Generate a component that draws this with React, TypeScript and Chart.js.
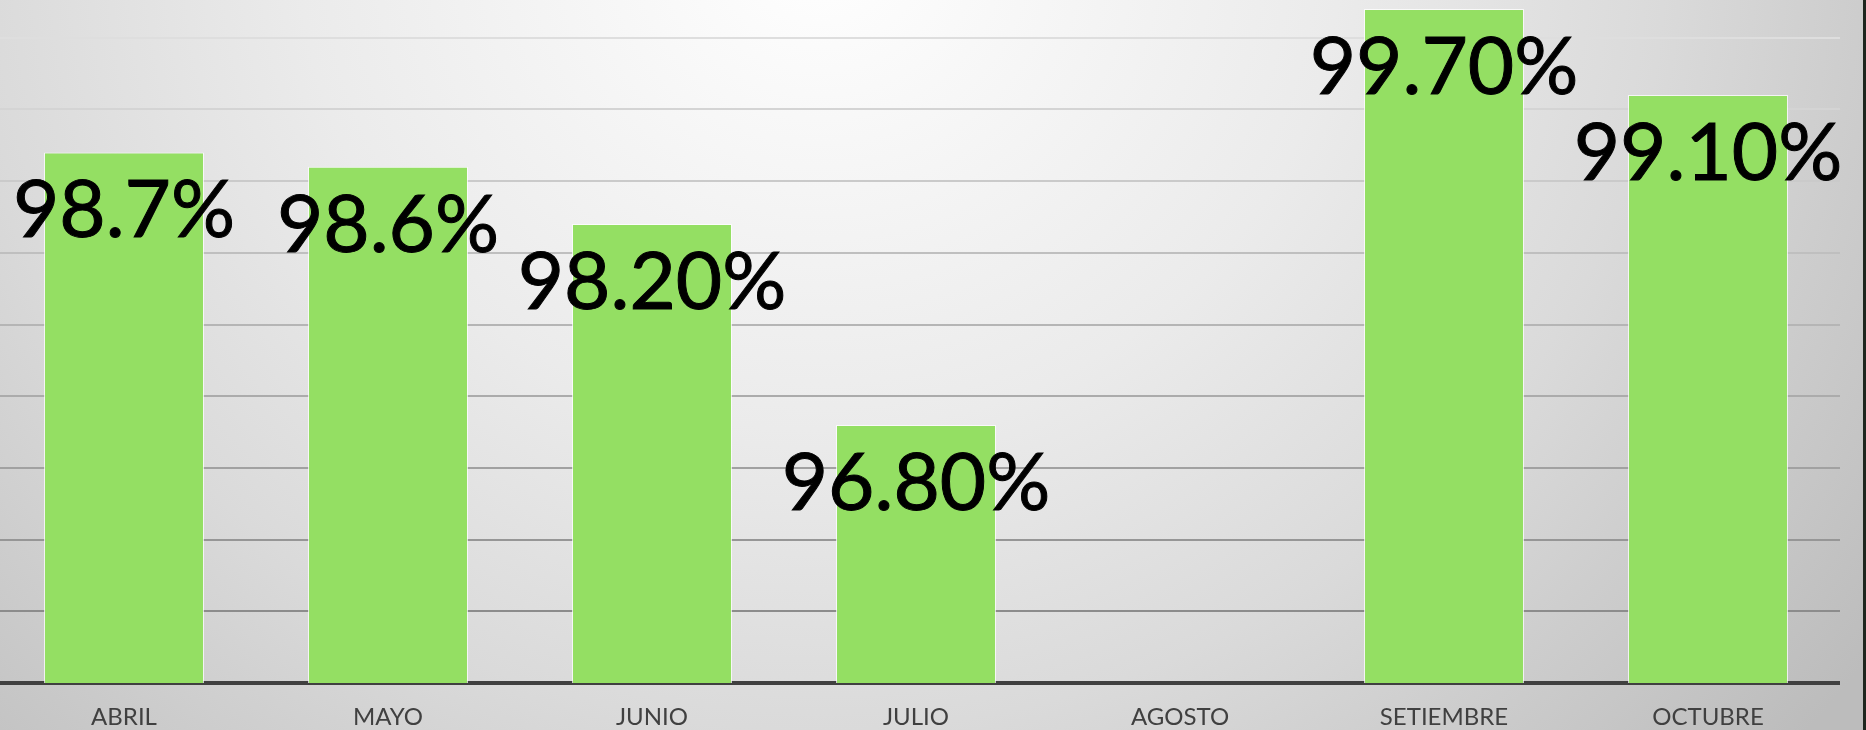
import React, { useEffect, useRef } from "react";
import { Chart, registerables } from "chart.js";

Chart.register(...registerables);

const months = ["ABRIL", "MAYO", "JUNIO", "JULIO", "AGOSTO", "SETIEMBRE", "OCTUBRE"];
const values: (number | null)[] = [98.7, 98.6, 98.2, 96.8, null, 99.7, 99.1];
const valueLabels: (string | null)[] = ["98.7%", "98.6%", "98.20%", "96.80%", null, "99.70%", "99.10%"];
const yMin = 95;
const yMax = 100;
const yStep = 0.5;

const dataLabelPlugin = {
  id: "dataLabels",
  afterDatasetsDraw(chart: any) {
    const ctx = chart.ctx;
    const meta = chart.getDatasetMeta(0);
    ctx.save();
    ctx.font = "80px Lato";
    ctx.fillStyle = "#000000";
    ctx.strokeStyle = "#000000";
    ctx.lineWidth = 1;
    ctx.textAlign = "center";
    ctx.textBaseline = "alphabetic";
    meta.data.forEach((bar: any, i: number) => {
      const label = valueLabels[i];
      if (values[i] == null || !label) return;
      ctx.fillText(label, bar.x, bar.y + 85);
      ctx.strokeText(label, bar.x, bar.y + 85);
    });
    ctx.restore();
  },
};

function gridColor(v: number) {
  // lighter lines near the top, darker near the bottom
  const t = Math.min(1, Math.max(0, (v - 95.5) / 4));
  const c = Math.round(0x8c + (0xde - 0x8c) * t);
  return `rgb(${c},${c},${c})`;
}

export default function App() {
  const ref = useRef<HTMLCanvasElement | null>(null);

  useEffect(() => {
    if (!ref.current) return;
    const chart = new Chart(ref.current, {
      type: "bar",
      data: {
        labels: months,
        datasets: [
          {
            data: values as any,
            backgroundColor: "#94df63",
            borderColor: "rgba(255,255,255,0.75)",
            borderWidth: 1,
            barPercentage: 0.606,
            categoryPercentage: 1,
          },
        ],
      },
      options: {
        responsive: false,
        animation: false,
        layout: { padding: 0 },
        plugins: {
          legend: { display: false },
          tooltip: { enabled: false },
          title: { display: false },
        },
        scales: {
          x: {
            grid: { display: false, drawTicks: false },
            border: { display: true, color: "#404040", width: 4 },
            ticks: {
              color: "#404040",
              font: { family: "Lato", size: 24 },
              padding: 20,
              maxRotation: 0,
              autoSkip: false,
            },
            afterFit: (scale: any) => {
              scale.height = 47;
            },
          },
          y: {
            min: yMin,
            max: yMax,
            ticks: { display: false, stepSize: yStep },
            border: { display: false },
            grid: {
              drawTicks: false,
              lineWidth: 2,
              color: (c: any) => gridColor(c.tick ? c.tick.value : 95),
            },
            afterFit: (scale: any) => {
              scale.width = 0;
            },
          },
        },
      },
      plugins: [dataLabelPlugin],
    });
    return () => chart.destroy();
  }, []);

  return (
    <div
      style={{
        position: "fixed",
        left: 0,
        top: 0,
        width: 1866,
        height: 730,
        overflow: "hidden",
        boxSizing: "border-box",
        borderRight: "3px solid #1e261e",
        background:
          "radial-gradient(1300px 1200px at 820px -50px, #ffffff 0%, #ebebeb 40%, #dadada 65%, #cdcdcd 80%, #bcbcbc 100%)",
      }}
    >
      <canvas
        ref={ref}
        width={1848}
        height={764}
        style={{ position: "absolute", left: -8, top: -34, width: 1848, height: 764 }}
      />
    </div>
  );
}
